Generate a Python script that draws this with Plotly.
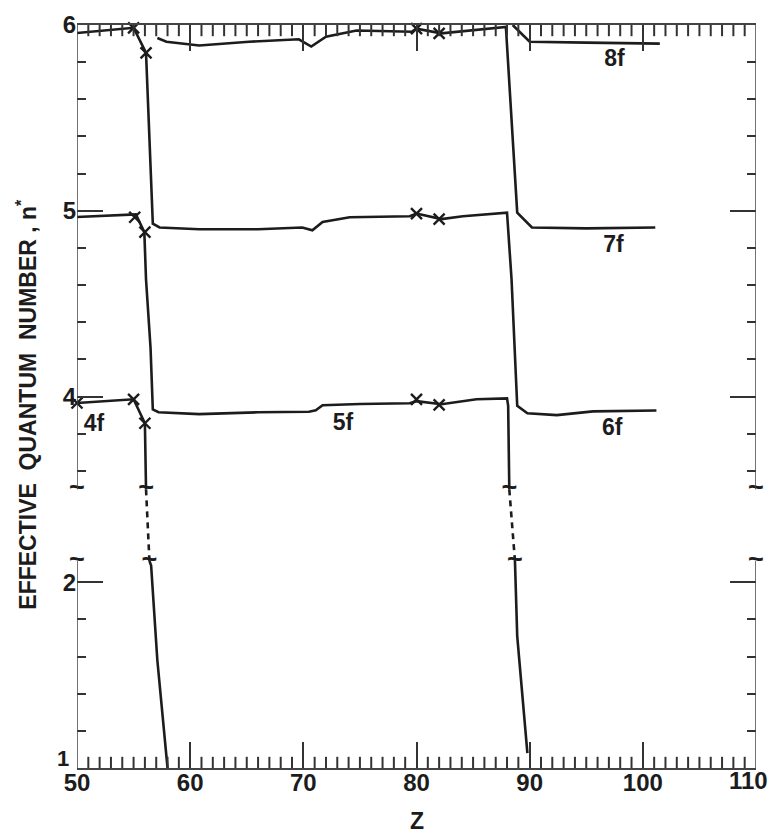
import plotly.graph_objects as go

# ---------------- data (Z, effective quantum number n*) ----------------
# Broken y scale: values below the break are drawn shifted up by BREAK_SHIFT
BREAK_SHIFT = 1.0
BREAK_TOP = 3.5      # lower edge of the upper panel (n*)
BREAK_BOTTOM = 2.115 # upper edge of the lower panel (n*)

# 4f curve
a_up_z = [50, 55, 56, 56.1]
a_up_n = [3.965, 3.985, 3.856, 3.5]
a_dash_z = [56.1, 56.4]
a_dash_n = [3.5, 2.115]
a_lo_z = [56.4, 56.55, 57.1, 58.0]
a_lo_n = [2.115, 2.09, 1.58, 1.0]

# 5f curve
b_up_z = [50, 55.2, 55.95, 56.1, 56.5, 56.7, 57.2, 60.8, 66, 70.5, 71.1, 71.7, 75, 79.4, 80, 82.2, 85.3, 88, 88.1, 88.2]
b_up_n = [4.966, 4.98, 4.885, 4.63, 4.26, 3.93, 3.915, 3.905, 3.915, 3.918, 3.926, 3.953, 3.96, 3.964, 3.975, 3.958, 3.985, 3.99, 3.95, 3.5]
b_dash_z = [88.2, 88.7]
b_dash_n = [3.5, 2.115]
b_lo_z = [88.7, 88.9, 89.8]
b_lo_n = [2.115, 1.71, 1.08]

# 6f curve
c_z = [50, 55, 56.1, 56.7, 57.3, 60.8, 66, 69.9, 70.8, 71.7, 74.1, 79.4, 80, 82.2, 84.1, 88, 88.4, 88.9, 89.8, 92.4, 95.6, 101.2]
c_n = [5.957, 5.985, 5.85, 4.93, 4.91, 4.90, 4.90, 4.91, 4.895, 4.94, 4.965, 4.97, 4.985, 4.955, 4.97, 4.99, 4.63, 3.95, 3.91, 3.90, 3.92, 3.925]

# 7f curve
d_z = [57.1, 57.9, 60.8, 65.2, 69.6, 70.7, 72, 74.7, 79.6, 80, 82.2, 85.3, 87.9, 88.9, 90.2, 95, 101.1]
d_n = [5.93, 5.91, 5.89, 5.91, 5.923, 5.884, 5.937, 5.97, 5.964, 5.98, 5.955, 5.973, 5.99, 4.99, 4.91, 4.905, 4.91]

# 8f curve
e_z = [88.5, 90.0, 95, 101.5]
e_n = [6.0, 5.91, 5.905, 5.90]

# crosses (x marks)
xm_z = [50, 55, 56, 55.1, 56, 80, 82, 55, 56.1, 80, 82, 80, 82]
xm_n = [3.965, 3.985, 3.856, 4.965, 4.885, 3.985, 3.955, 5.985, 5.85, 4.985, 4.955, 5.98, 5.955]

# curve labels
lab_text = ["4f", "5f", "6f", "7f", "8f"]
lab_z = [51.5, 73.5, 97.3, 97.4, 97.5]
lab_n = [3.846, 3.85, 3.825, 4.81, 5.81]

# axis ticks
X_MIN, X_MAX = 50, 110
X_MAJOR_STEP, X_MINOR_STEP = 10, 1
x_major = list(range(X_MIN, X_MAX + 1, X_MAJOR_STEP))
x_major_text = [str(v) if v != X_MAX else "" for v in x_major]
x_unit_ticks = [v for v in range(X_MIN + 1, X_MAX, X_MINOR_STEP) if v % X_MAJOR_STEP != 0]
x_last_label = str(X_MAX)
y_major_n = [2, 4, 5, 6]
y_major_text = ["2", "4", "5", "6"]
y_bottom_label_n = 1
y_bottom_label = "1"
y_minor_n = [1.2, 1.4, 1.6, 1.8, 3.6, 3.8, 4.2, 4.4, 4.6, 4.8, 5.2, 5.4, 5.6, 5.8]

Y_MIN_N, Y_MAX_N = 1.0, 6.0


def tr(v):
    """map n* onto the broken display scale"""
    return v if v >= 3.0 else v + BREAK_SHIFT


def trl(vals):
    return [tr(v) for v in vals]


INK = "#1c1c1c"
FONT = "Liberation Sans"
LW = 2.6

fig = go.Figure()

solid = [
    (a_up_z, a_up_n), (a_lo_z, a_lo_n),
    (b_up_z, b_up_n), (b_lo_z, b_lo_n),
    (c_z, c_n), (d_z, d_n), (e_z, e_n),
]
for zs, ns in solid:
    fig.add_trace(go.Scatter(x=zs, y=trl(ns), mode="lines",
                             line=dict(color=INK, width=LW), showlegend=False, hoverinfo="skip"))

for zs, ns in [(a_dash_z, a_dash_n), (b_dash_z, b_dash_n)]:
    fig.add_trace(go.Scatter(x=zs, y=trl(ns), mode="lines",
                             line=dict(color=INK, width=LW, dash="6px,5px"), showlegend=False, hoverinfo="skip"))

fig.add_trace(go.Scatter(x=xm_z, y=trl(xm_n), mode="markers",
                         marker=dict(symbol="x-thin", size=11, line=dict(color=INK, width=2.4)),
                         showlegend=False, hoverinfo="skip", cliponaxis=False))

# break marks on curves and axes
brk_z = [a_dash_z[0], a_dash_z[1], b_dash_z[0], b_dash_z[1], X_MIN, X_MIN, X_MAX, X_MAX]
brk_n = [BREAK_TOP, BREAK_BOTTOM, BREAK_TOP, BREAK_BOTTOM, BREAK_TOP, BREAK_BOTTOM, BREAK_TOP, BREAK_BOTTOM]
fig.add_trace(go.Scatter(x=brk_z, y=trl(brk_n), mode="text", text=["~"] * len(brk_z),
                         textposition="middle center",
                         textfont=dict(family=FONT, size=27, color=INK, weight="bold"),
                         showlegend=False, hoverinfo="skip", cliponaxis=False))

fig.add_trace(go.Scatter(x=lab_z, y=trl(lab_n), mode="text", text=lab_text,
                         textposition="middle center",
                         textfont=dict(family=FONT, size=23, color=INK, weight="bold"),
                         showlegend=False, hoverinfo="skip"))

# unit ticks along the bottom and top frame (half of each mark is clipped by the plot area)
for yv in (Y_MIN_N, Y_MAX_N):
    fig.add_trace(go.Scatter(x=x_unit_ticks, y=[tr(yv)] * len(x_unit_ticks), mode="markers",
                             marker=dict(symbol="line-ns", size=16, line=dict(color="#333", width=2)),
                             showlegend=False, hoverinfo="skip", cliponaxis=True))

# broken vertical frame lines
for xv in (X_MIN, X_MAX):
    fig.add_shape(type="line", xref="x", yref="y", x0=xv, x1=xv, y0=tr(BREAK_TOP), y1=tr(Y_MAX_N),
                  line=dict(color="#444", width=1.5))
    fig.add_shape(type="line", xref="x", yref="y", x0=xv, x1=xv, y0=tr(Y_MIN_N), y1=tr(BREAK_BOTTOM),
                  line=dict(color="#444", width=1.5))

tickfont = dict(family=FONT, size=24, color=INK, weight="bold")

fig.update_layout(
    xaxis=dict(range=[X_MIN, X_MAX], tickmode="array", tickvals=x_major, ticktext=x_major_text,
               ticks="inside", ticklen=26, tickwidth=1.5, tickcolor="#333",
               showline=True, linewidth=1.5, linecolor="#444", mirror="ticks",
               showgrid=False, zeroline=False, tickfont=tickfont, ticklabelstandoff=-8,
               automargin=False),
    yaxis=dict(range=[tr(Y_MIN_N), tr(Y_MAX_N)], tickmode="array",
               tickvals=trl(y_major_n + [y_bottom_label_n]), ticktext=y_major_text + [""],
               ticks="inside", ticklen=26, tickwidth=1.5, tickcolor="#333",
               showline=False, mirror="ticks", automargin=False,
               minor=dict(tickmode="array", tickvals=trl(y_minor_n), ticks="inside", ticklen=9,
                          tickwidth=1.5, tickcolor="#333"),
               showgrid=False, zeroline=False, tickfont=tickfont),
)

# last x label kept inside the page
fig.add_annotation(text=x_last_label, xref="paper", yref="paper", x=1, y=0,
                   xanchor="right", yanchor="top", xshift=14, yshift=3, showarrow=False,
                   font=dict(family=FONT, size=24, color=INK, weight="bold"))

# bottom "1" label sits just above the x tick labels, as in the original
fig.add_annotation(text=y_bottom_label, xref="paper", yref="y", x=0, y=tr(y_bottom_label_n),
                   xanchor="right", yanchor="bottom", xshift=-6, yshift=-5, showarrow=False,
                   font=dict(family=FONT, size=22, color=INK, weight="bold"))

fig.add_annotation(text="Z", xref="x", yref="paper", x=80, y=-0.072, showarrow=False,
                   font=dict(family=FONT, size=23, color=INK, weight="bold"),
                   xanchor="center", yanchor="middle")
fig.add_annotation(text="EFFECTIVE  QUANTUM  NUMBER , n<sup>*</sup>", xref="paper", yref="paper",
                   x=-0.074, y=0.49, textangle=-90, showarrow=False,
                   font=dict(family=FONT, size=23, color=INK, weight="bold"),
                   xanchor="center", yanchor="middle")

fig.update_layout(width=771, height=837, margin=dict(l=77, r=15, t=25, b=69),
                  paper_bgcolor="white", plot_bgcolor="white")

fig.write_html("out.html")
